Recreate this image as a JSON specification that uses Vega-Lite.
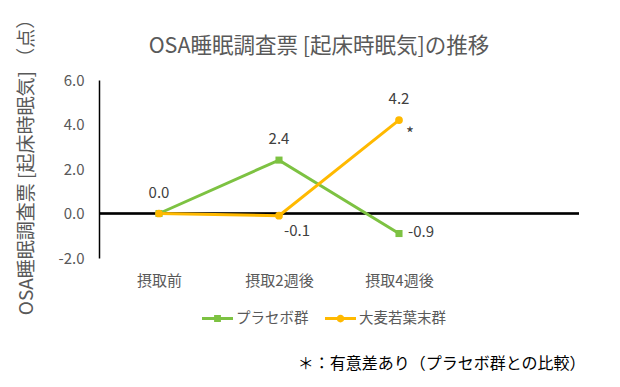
{
  "$schema": "https://vega.github.io/schema/vega-lite/v6.json",
  "autosize": {"type": "none"},
  "width": 480,
  "height": 178,
  "padding": {"left": 99, "top": 80, "right": 41, "bottom": 129},
  "background": "white",
  "config": {
    "font": "Noto Sans CJK JP",
    "view": {"stroke": null},
    "locale": {
      "number": {"decimal": ".", "thousands": ",", "grouping": [3], "currency": ["$", ""], "minus": "-"}
    }
  },
  "title": {
    "text": "OSA睡眠調査票 [起床時眠気]の推移",
    "fontSize": 21.5,
    "fontWeight": "normal",
    "color": "#595959",
    "anchor": "middle",
    "dx": -20,
    "offset": 0,
    "dy": 48
  },
  "data": {
    "values": [
      {"group": "プラセボ群", "time": "摂取前", "value": 0.0},
      {"group": "プラセボ群", "time": "摂取2週後", "value": 2.4},
      {"group": "プラセボ群", "time": "摂取4週後", "value": -0.9},
      {"group": "大麦若葉末群", "time": "摂取前", "value": 0.0},
      {"group": "大麦若葉末群", "time": "摂取2週後", "value": -0.1},
      {"group": "大麦若葉末群", "time": "摂取4週後", "value": 4.2}
    ]
  },
  "encoding": {
    "x": {
      "field": "time",
      "type": "nominal",
      "sort": null,
      "scale": {"domain": ["摂取前", "摂取2週後", "摂取4週後", ""], "paddingInner": 0, "paddingOuter": 0},
      "axis": {
        "domain": false,
        "ticks": false,
        "labelAngle": 0,
        "labelFontSize": 15,
        "labelColor": "#595959",
        "labelPadding": 15,
        "title": "＊：有意差あり（プラセボ群との比較）",
        "titleFontSize": 16,
        "titleFontWeight": "normal",
        "titleColor": "#000000",
        "titleX": 486,
        "titleY": 105,
        "titleAlign": "right",
        "titleBaseline": "middle"
      }
    },
    "y": {
      "field": "value",
      "type": "quantitative",
      "scale": {"domain": [-2, 6], "nice": false, "zero": false},
      "axis": {
        "values": [-2, 0, 2, 4, 6],
        "format": ".1f",
        "grid": false,
        "ticks": false,
        "domainColor": "#000000",
        "domainWidth": 1.5,
        "labelFontSize": 15,
        "labelColor": "#595959",
        "labelPadding": 15,
        "title": "OSA睡眠調査票 [起床時眠気] （点）",
        "titleFontSize": 19,
        "titleFontWeight": "normal",
        "titleColor": "#595959",
        "titleX": -73,
        "titleY": 82,
        "titleAlign": "center",
        "titleBaseline": "middle",
        "titleAngle": 270
      }
    },
    "color": {
      "field": "group",
      "type": "nominal",
      "scale": {"domain": ["プラセボ群", "大麦若葉末群"], "range": ["#7DC242", "#FFB900"]},
      "legend": {
        "title": null,
        "orient": "none",
        "legendX": 103,
        "legendY": 223,
        "direction": "horizontal",
        "symbolSize": 961,
        "labelFontSize": 14.5,
        "labelColor": "#595959",
        "labelOffset": 3,
        "columnPadding": 16,
        "encode": {
          "symbols": {
            "update": {
              "shape": {"signal": "datum.value === 'プラセボ群' ? 'M-1,-0.1H1V0.1H-1Z M-0.22,-0.22H0.22V0.22H-0.22Z' : 'M-1,-0.1H1V0.1H-1Z M0.25,0A0.25,0.25 0 1,1 -0.25,0A0.25,0.25 0 1,1 0.25,0Z'"},
              "fill": {"scale": "color", "field": "value"},
              "stroke": {"value": "transparent"},
              "strokeWidth": {"value": 0},
              "opacity": {"value": 1}
            }
          }
        }
      }
    }
  },
  "layer": [
    {
      "mark": {"type": "rule", "color": "#000000", "strokeWidth": 1.5},
      "encoding": {"y": {"datum": 0}, "x": null, "color": null}
    },
    {
      "mark": {"type": "line", "strokeWidth": 3},
      "encoding": {}
    },
    {
      "transform": [{"filter": "datum.group == 'プラセボ群'"}],
      "mark": {"type": "square", "filled": true, "size": 50, "opacity": 1},
      "encoding": {}
    },
    {
      "transform": [{"filter": "datum.group == '大麦若葉末群'"}],
      "mark": {"type": "circle", "filled": true, "size": 60, "opacity": 1},
      "encoding": {}
    },
    {
      "transform": [{"filter": "(datum.group == 'プラセボ群' && datum.time != '摂取4週後') || (datum.group == '大麦若葉末群' && datum.time == '摂取4週後')"}],
      "mark": {"type": "text", "fontSize": 15, "color": "#404040", "dy": -21, "baseline": "middle"},
      "encoding": {"text": {"field": "value", "type": "quantitative", "format": ".1f"}, "color": null}
    },
    {
      "transform": [{"filter": "datum.group == '大麦若葉末群' && datum.time == '摂取2週後'"}],
      "mark": {"type": "text", "fontSize": 15, "color": "#404040", "dx": 18, "dy": 15, "baseline": "middle"},
      "encoding": {"text": {"field": "value", "type": "quantitative", "format": ".1f"}, "color": null}
    },
    {
      "transform": [{"filter": "datum.group == 'プラセボ群' && datum.time == '摂取4週後'"}],
      "mark": {"type": "text", "fontSize": 15, "color": "#404040", "align": "left", "dx": 9, "dy": -2, "baseline": "middle"},
      "encoding": {"text": {"field": "value", "type": "quantitative", "format": ".1f"}, "color": null}
    },
    {
      "transform": [{"filter": "datum.group == '大麦若葉末群' && datum.time == '摂取4週後'"}],
      "mark": {"type": "text", "text": "*", "fontSize": 17, "color": "#404040", "dx": 11, "dy": 15, "baseline": "middle"},
      "encoding": {"color": null}
    }
  ]
}
